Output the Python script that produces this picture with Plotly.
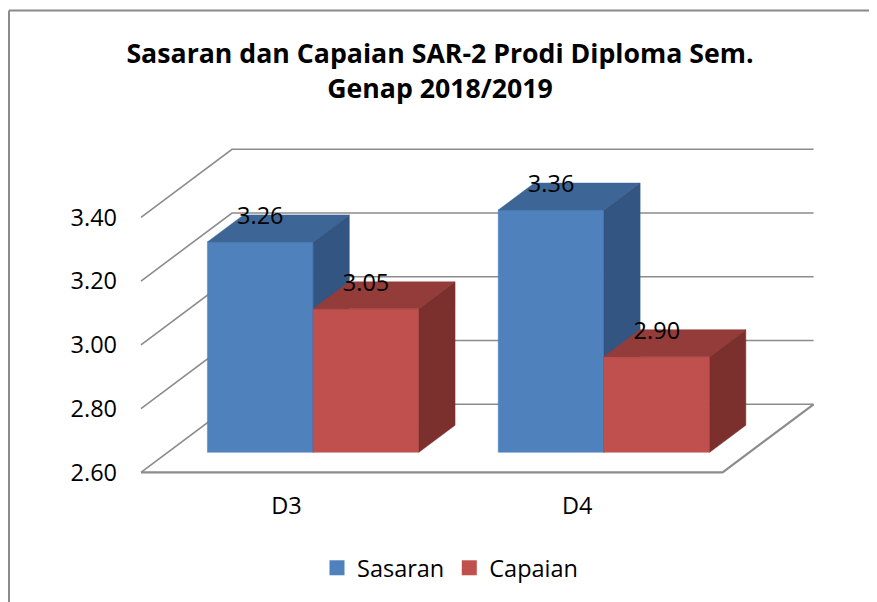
import plotly.graph_objects as go

# ---------------- data ----------------
CATEGORIES = ["D3", "D4"]
SERIES = ["Sasaran", "Capaian"]
SASARAN = [3.26, 3.36]
CAPAIAN = [3.05, 2.90]
Y_TICKS = [2.60, 2.80, 3.00, 3.20, 3.40]
TITLE = "Sasaran dan Capaian SAR-2 Prodi Diploma Sem.<br>Genap 2018/2019"

# ---------------- style ----------------
PAGE_W, PAGE_H = 877, 602
OFF = 8                      # browser body margin
W, H = PAGE_W - OFF, PAGE_H - OFF
FONT = "Open Sans"
TXT = 23.5
FRONT_COL = ["#4F81BD", "#C0504D"]
TOP_COL = ["#3D6697", "#933C3A"]
SIDE_COL = ["#335582", "#7B302E"]
GRID_COL = "#8C8C8C"

# pixel geometry of the (oblique) 3-D projection, in figure pixels
PX_CAT = 290.8        # pixels per category
PX_VAL = 318.75       # pixels per value unit
ORIG_X, ORIG_Y = 141 - OFF, 472.3 - OFF   # front-left floor corner
M_L, M_R, M_T = 121 - OFF, 32, 112
M_B = H - (485 - OFF)
DEPTH_PX = (91, 68)   # full floor depth (right, up) in pixels
BAR_FRONT, BAR_BACK = 20 / 68, 47 / 68
GAP_WIDTH = 0.75
LABEL_DROP_PX = 3

DX = DEPTH_PX[0] / PX_CAT
DY = DEPTH_PX[1] / PX_VAL
BASE = Y_TICKS[0]
N = len(CATEGORIES)
BW = 1 / (len(SERIES) + GAP_WIDTH)

x_range = [-0.5 - (ORIG_X - M_L) / PX_CAT, -0.5 + (W - M_R - ORIG_X) / PX_CAT]
y_range = [BASE - (H - M_B - ORIG_Y) / PX_VAL, BASE + (ORIG_Y - M_T) / PX_VAL]
plot_w = W - M_L - M_R
plot_h = H - M_T - M_B


def px_to_paper(px, py):
    return (px - M_L) / plot_w, (H - M_B - py) / plot_h


fig = go.Figure()

# gridlines (left wall + back wall)
gx, gy = [], []
for t in Y_TICKS:
    gx += [-0.5, -0.5 + DX, N - 0.5 + DX, None]
    gy += [t, t + DY, t + DY, None]
fig.add_trace(go.Scatter(x=gx, y=gy, mode="lines",
                         line=dict(color=GRID_COL, width=1.6),
                         hoverinfo="skip", showlegend=False))
# floor front & right edges
fig.add_trace(go.Scatter(x=[-0.5, N - 0.5, N - 0.5 + DX],
                         y=[BASE, BASE, BASE + DY], mode="lines",
                         line=dict(color=GRID_COL, width=2.2),
                         hoverinfo="skip", showlegend=False))

fx, fy = BAR_FRONT * DX, BAR_FRONT * DY
bx, by = BAR_BACK * DX, BAR_BACK * DY
values = [SASARAN, CAPAIAN]


def face(xs, ys, col):
    fig.add_trace(go.Scatter(x=xs + [xs[0]], y=ys + [ys[0]], mode="lines",
                             fill="toself", fillcolor=col,
                             line=dict(color=col, width=0.5),
                             hoverinfo="skip", showlegend=False))


for c in range(N):
    for s, vals in enumerate(values):
        v = vals[c]
        x0 = c - len(SERIES) * BW / 2 + s * BW
        x1 = x0 + BW
        # front
        face([x0 + fx, x1 + fx, x1 + fx, x0 + fx],
             [BASE + fy, BASE + fy, v + fy, v + fy], FRONT_COL[s])
        # top
        face([x0 + fx, x1 + fx, x1 + bx, x0 + bx],
             [v + fy, v + fy, v + by, v + by], TOP_COL[s])
        # side
        face([x1 + fx, x1 + bx, x1 + bx, x1 + fx],
             [BASE + fy, BASE + by, v + by, v + fy], SIDE_COL[s])

# data labels
for s, vals in enumerate(values):
    lx = [c - len(SERIES) * BW / 2 + s * BW + BW / 2 + fx for c in range(N)]
    ly = [v + by - LABEL_DROP_PX / PX_VAL for v in vals]
    fig.add_trace(go.Scatter(x=lx, y=ly, mode="text",
                             text=[f"{v:.2f}" for v in vals],
                             textposition="middle center",
                             textfont=dict(family=FONT, size=TXT, color="black"),
                             cliponaxis=False, hoverinfo="skip", showlegend=False))

# legend entries
for s, name in enumerate(SERIES):
    fig.add_trace(go.Scatter(x=[None], y=[None], mode="markers", name=name,
                             marker=dict(symbol="square", size=15, color=FRONT_COL[s])))

# chart-area border (left and top edges visible)
bx0, by0 = px_to_paper(9 - OFF, H + 5)
bx1, by1 = px_to_paper(9 - OFF, 10.5 - OFF)
bx2, _ = px_to_paper(W + 5, 10.5 - OFF)
fig.add_shape(type="line", xref="paper", yref="paper", x0=bx0, y0=by0, x1=bx1, y1=by1,
              line=dict(color="#8A8A8A", width=2))
fig.add_shape(type="line", xref="paper", yref="paper", x0=bx1, y0=by1, x1=bx2, y1=by1,
              line=dict(color="#8A8A8A", width=2))

fig.update_layout(
    width=W, height=H,
    margin=dict(l=M_L, r=M_R, t=M_T, b=M_B, pad=0),
    paper_bgcolor="white", plot_bgcolor="white",
    font=dict(family=FONT, size=TXT, color="black"),
    title=dict(text=TITLE, x=(440 - OFF) / W, xref="container", xanchor="center",
               y=1 - 55 / H, yref="container", yanchor="top",
               font=dict(family=FONT, size=26.7, color="black", weight="bold")),
    xaxis=dict(range=x_range, tickvals=list(range(N)), ticktext=CATEGORIES,
               showgrid=False, zeroline=False, showline=False, ticks="",
               ticklabelstandoff=4, fixedrange=True),
    yaxis=dict(range=y_range, tickvals=Y_TICKS, tickformat=".2f",
               showgrid=False, zeroline=False, showline=False, ticks="",
               ticklabelstandoff=3, fixedrange=True),
    showlegend=True,
    legend=dict(orientation="h", xref="container", x=(450 - OFF) / W, xanchor="center",
                yref="container", y=1 - (568 - OFF) / H, yanchor="middle",
                font=dict(family=FONT, size=TXT), itemwidth=30,
                bgcolor="rgba(0,0,0,0)"),
)

fig.write_html("out.html")
